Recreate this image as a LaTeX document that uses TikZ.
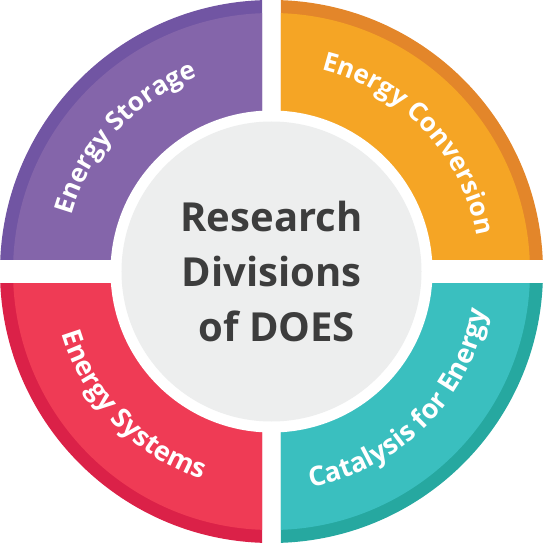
\documentclass[tikz,border=0pt]{standalone}
\usepackage{fontspec}
\setmainfont{Open Sans}
\usetikzlibrary{decorations.text}
\definecolor{purpleL}{HTML}{8465AA}
\definecolor{purpleD}{HTML}{7155A3}
\definecolor{orangeL}{HTML}{F5A525}
\definecolor{orangeD}{HTML}{E3862A}
\definecolor{tealL}{HTML}{3ABFBF}
\definecolor{tealD}{HTML}{26A8A0}
\definecolor{redL}{HTML}{EF3B55}
\definecolor{redD}{HTML}{DB2148}
\definecolor{grayC}{HTML}{EDEEEE}
\definecolor{textD}{HTML}{3D3D3D}
\newcommand\arcfont{\fontsize{26}{26}\selectfont\bfseries}
\newcommand\arcfontb{\fontsize{27}{27}\selectfont\bfseries}
\begin{document}
\begin{tikzpicture}[x=1pt,y=1pt,
  centertext/.style={anchor=base,inner sep=0pt,text=textD,font=\fontsize{40}{48}\selectfont\bfseries}]
\useasboundingbox (-271.5,-271.5) rectangle (271.5,271.5);
% quadrants
\begin{scope}
  \clip (-272,12) rectangle (-9.3,272);
  \fill[purpleD] (0,0) circle (271.5);
  \fill[purpleL] (0,0) circle (258.5);
\end{scope}
\begin{scope}
  \clip (9.3,12) rectangle (272,272);
  \fill[orangeD] (0,0) circle (271.5);
  \fill[orangeL] (0,0) circle (258.5);
\end{scope}
\begin{scope}
  \clip (9.3,-12) rectangle (272,-272);
  \fill[tealD] (0,0) circle (271.5);
  \fill[tealL] (0,0) circle (258.5);
\end{scope}
\begin{scope}
  \clip (-272,-12) rectangle (-9.3,-272);
  \fill[redD] (0,0) circle (271.5);
  \fill[redL] (0,0) circle (258.5);
\end{scope}
% centre
\fill[white] (0,0) circle (161);
\fill[grayC] (0,0) circle (150);
\node[centertext] (l1) at (0,39.8) {Research};
\node[centertext] (l2) at (0,-15.2) {Divisions};
\node[centertext] (l3) at (0,-70.2) {\hspace*{0.26em}of DOES};
% arc labels
\path[decorate,decoration={text along path,text align=center,text color=white,
  text={|\arcfont|Energy Storage}}] (185:208) arc[start angle=185,end angle=90,radius=208];
\path[decorate,decoration={text along path,text align=center,text color=white,
  text={|\arcfont|Energy Conversion}}] (88:208) arc[start angle=88,end angle=-2,radius=208];
\path[decorate,decoration={text along path,text align=center,text color=white,
  text={|\arcfontb|Catalysis for Energy}}] (-90:219) arc[start angle=-90,end angle=0,radius=219];
\path[decorate,decoration={text along path,text align=center,text color=white,
  text={|\arcfontb|Energy Systems}}] (180:219) arc[start angle=180,end angle=268,radius=219];
\end{tikzpicture}
\end{document}
